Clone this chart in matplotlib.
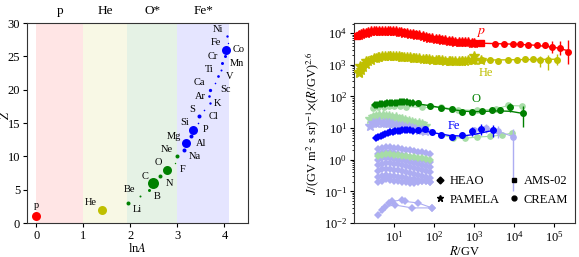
import numpy as np
import matplotlib
matplotlib.use("Agg")
import matplotlib.pyplot as plt
from matplotlib.lines import Line2D

plt.rcParams['font.family'] = ['Liberation Serif', 'DejaVu Serif']
plt.rcParams['mathtext.fontset'] = 'stix'
plt.rcParams['font.size'] = 9

# ---------------- left panel data ----------------
elements = ['p', 'He', 'Li', 'Be', 'B', 'C', 'N', 'O', 'F', 'Ne', 'Na', 'Mg', 'Al', 'Si',
            'P', 'S', 'Cl', 'Ar', 'K', 'Ca', 'Sc', 'Ti', 'V', 'Cr', 'Mn', 'Fe', 'Co', 'Ni']
charge_Z = [1, 2, 3, 4, 5, 6, 7, 8, 9, 10, 11, 12, 13, 14, 15, 16, 17, 18, 19, 20,
            21, 22, 23, 24, 25, 26, 27, 28]
mass_A = [1, 4, 7, 9, 11, 12, 14, 16, 19, 20, 23, 24, 27, 28, 31, 32, 35, 40, 39, 40,
          45, 48, 51, 52, 55, 56, 59, 58]
group = ['p', 'He'] + ['O'] * 8 + ['Fe'] * 18
abundance_dot = [9, 9, 4, 2, 3, 11, 4, 9, 1.4, 4, 4, 9, 4, 9, 1.6, 4, 1.6, 2.4, 2.6, 3.3,
                 1.6, 2.7, 2, 3, 3, 9, 1.4, 2.4]
group_names = ['p', 'He', 'O*', 'Fe*']
group_bounds = [(0, 1), (1, 1.92), (1.92, 3.0), (3.0, 4.09)]

# ---------------- right panel data ----------------
p_pam_R = [1.3, 1.5, 1.7, 2.0, 2.3, 2.7, 3.1, 3.6, 4.2, 5, 6, 7, 8, 9.5, 11, 13, 15, 18, 21,
           25, 30, 36, 43, 52, 62, 75, 90, 110, 130, 160, 190, 230, 280, 340, 410, 500, 600,
           720, 870, 1000]
p_pam = [8.6e3, 9.3e3, 9.9e3, 1.05e4, 1.1e4, 1.14e4, 1.17e4, 1.19e4, 1.2e4, 1.21e4, 1.21e4,
         1.2e4, 1.19e4, 1.17e4, 1.15e4, 1.12e4, 1.09e4, 1.05e4, 1.01e4, 9.7e3, 9.3e3, 8.9e3,
         8.5e3, 8.1e3, 7.7e3, 7.3e3, 7.0e3, 6.7e3, 6.4e3, 6.1e3, 5.9e3, 5.7e3, 5.5e3, 5.4e3,
         5.3e3, 5.2e3, 5.1e3, 5.1e3, 5.0e3, 5.0e3]
p_ams_R = [1.2, 2, 4, 8, 16, 32, 64, 128, 256, 512, 1000, 1500]
p_ams = [8.2e3, 1.04e4, 1.2e4, 1.19e4, 1.08e4, 9.1e3, 7.5e3, 6.4e3, 5.6e3, 5.2e3, 5.0e3, 4.9e3]
p_cre_R = [3.4e3, 5.6e3, 9.5e3, 1.4e4, 2.2e4, 3.8e4, 6e4, 8.9e4, 1.4e5, 2.2e5]
p_cre = [4.7e3, 4.7e3, 4.5e3, 4.5e3, 4.3e3, 4.3e3, 4.1e3, 3.7e3, 3.5e3, 2.6e3]
p_cre_lo = [150, 150, 200, 250, 300, 400, 700, 1300, 1500, 1500]
p_cre_hi = [150, 150, 200, 250, 300, 450, 900, 2000, 2300, 3300]
p_fit_R = [1000, 3000, 1e4, 3e4, 1e5, 2.2e5]
p_fit = [4.9e3, 4.7e3, 4.5e3, 4.2e3, 3.6e3, 2.8e3]

he_pam_R = p_pam_R
he_pam = [550, 700, 850, 1050, 1300, 1450, 1600, 1700, 1780, 1850, 1880, 1900, 1900, 1900,
          1880, 1860, 1830, 1800, 1760, 1720, 1680, 1640, 1600, 1560, 1520, 1480, 1450, 1420,
          1400, 1380, 1370, 1360, 1350, 1350, 1350, 1360, 1370, 1380, 1400, 1420]
he_ams_R = [1.3, 1.4, 2, 4, 8, 16, 32, 64, 128, 256, 512, 1000, 1500]
he_ams = [600, 950, 1300, 1800, 1900, 1830, 1650, 1490, 1390, 1350, 1360, 1900, 1400]
he_cre_R = [1.6e3, 2.5e3, 4e3, 7e3, 1.2e4, 1.9e4, 3e4, 4.5e4, 7e4, 1.2e5]
he_cre = [1.4e3, 1.4e3, 1.35e3, 1.4e3, 1.45e3, 1.5e3, 1.5e3, 1.45e3, 1.4e3, 1.4e3]
he_cre_lo = [60, 60, 70, 80, 100, 120, 150, 600, 700, 400]
he_cre_hi = [60, 60, 70, 80, 100, 120, 150, 400, 600, 800]
he_fit_R = [1000, 1e4, 1e5, 1.2e5]
he_fit = [1.4e3, 1.45e3, 1.5e3, 1.5e3]

o_heao_R = [3.3, 3.8, 4.4, 5.0, 5.8, 6.7, 7.7, 8.9, 10.3, 11.9, 13.7, 15.8, 18.2, 21, 25, 30]
o_heao = [53, 55, 57, 58, 59, 60, 61, 62, 63, 64, 65, 66, 66, 65, 64, 62]
o_cre_R = [40, 80, 150, 280, 500, 900, 1600, 2800, 4500, 8000, 16600]
o_cre = [60, 50, 44, 39, 32, 32, 34, 37, 38, 46, 30]
o_cre_err = [3, 3, 3, 3, 3, 3, 4, 5, 7, 14, 19]
o_fit_R = [20, 40, 80, 150, 300, 600, 1000, 2000, 4000, 8000, 16600]
o_fit = [63, 58, 51, 44, 38, 34, 33, 34, 35, 34, 29]

fe_heao_R = [3.5, 4, 4.6, 5.3, 6.1, 7, 8, 9.2, 10.6, 12.2, 14, 16, 18.5, 21, 25, 30]
fe_heao = [4.8, 5.2, 5.7, 6.2, 6.6, 7.0, 7.3, 7.6, 7.9, 8.1, 8.3, 8.4, 8.5, 8.5, 8.4, 8.3]
fe_cre_R = [40, 60, 90, 150, 280, 500, 900, 1500, 3000]
fe_cre = [8.5, 9.6, 7.8, 6.0, 5.4, 6.2, 8.3, 9.7, 8.7]
fe_cre_err = [0.8, 1.0, 1.0, 0.8, 0.8, 1.2, 2.5, 3.5, 3.5]
fe_fit_R = [3.5, 5, 8, 15, 30, 60, 120, 250, 500, 1000, 2000, 3000]
fe_fit = [4.8, 6.0, 7.3, 8.3, 8.5, 8.0, 6.8, 5.8, 5.6, 6.3, 7.6, 8.5]

# faint (other species)
lg_o_R = [3, 4, 5.5, 7.5, 10, 14, 20, 50, 150, 400, 1200, 3500, 7000, 16000]
lg_o = [42, 45, 48, 50, 51, 50, 48, 45, 46, 38, 36, 40, 52, 50]
band_R = [2.5, 3, 3.6, 4.3, 5.2, 6.3, 7.5, 9, 11, 13, 16, 19, 23, 28, 34, 41, 50, 60]
lg_band = [20, 23, 25, 26, 26, 25, 24, 23, 22, 20, 19, 18, 17, 16, 15, 14, 13, 12]
lav_band = [12, 14, 15, 15.5, 15, 14.5, 14, 13, 12.5, 12, 11.5, 11, 10.5, 10, 9.5, 9, 8.5, 8]
lg_hi_R = [150, 300, 600, 1200, 2500, 5000, 9000]
lg_hi = [6, 5, 4.8, 5.2, 5.5, 6, 7]
lav_hi_R = [1000, 2000, 4000, 9500]
lav_hi = [9, 10, 8, 5.3]
lav_hi_lo = [2, 3, 3, 5.2]
lav_hi_up = [2, 3, 4, 4]

heao_R = [4, 5, 6.3, 8, 10, 12.6, 16, 20, 25, 32, 40, 50, 63, 80]
lav_a = [2.2, 2.4, 2.5, 2.5, 2.4, 2.3, 2.2, 2.1, 2.0, 1.9, 1.8, 1.7, 1.6, 1.5]
lav_b = [1.5, 1.6, 1.7, 1.7, 1.6, 1.5, 1.4, 1.3, 1.2, 1.1, 1.0, 0.95, 0.9, 0.85]
lav_c = [1.0, 1.1, 1.15, 1.1, 1.05, 1.0, 0.95, 0.9, 0.85, 0.8, 0.75, 0.7, 0.65, 0.6]
lav_d = [0.7, 0.75, 0.8, 0.78, 0.75, 0.72, 0.68, 0.64, 0.6, 0.56, 0.52, 0.48, 0.45, 0.42]
lav_e = [0.45, 0.5, 0.52, 0.5, 0.48, 0.46, 0.43, 0.4, 0.38, 0.35, 0.33, 0.31, 0.29, 0.27]
lav_f = [0.28, 0.3, 0.32, 0.31, 0.3, 0.29, 0.28, 0.26, 0.25, 0.24, 0.23, 0.22, 0.21, 0.2]
lav_g = [0.2, 0.22, 0.24, 0.23, 0.22, 0.21, 0.2, 0.2, 0.19, 0.19, 0.2, 0.21, 0.22, 0.2]
lg_h = [1.3, 1.4, 1.5, 1.5, 1.45, 1.4, 1.35, 1.3, 1.25, 1.2, 1.15, 1.1, 1.05, 1.0]
lav_s1_R = [5, 7.5, 9, 16, 19, 40, 89]
lav_s1 = [0.026, 0.043, 0.048, 0.054, 0.048, 0.043, 0.03]
lav_s2_R = [4, 6, 10.6, 28, 89]
lav_s2 = [0.018, 0.033, 0.037, 0.03, 0.03]

# ---------------- figure ----------------
fig = plt.figure(figsize=(5.79, 2.57), dpi=100)
axL = fig.add_axes([27 / 579, 34 / 257, 221 / 579, 200 / 257])
axR = fig.add_axes([354 / 579, 34 / 257, 221 / 579, 200 / 257])

# left
span_colors = ['red', 'y', 'g', 'b']
for (a, b), c, name in zip(group_bounds, span_colors, group_names):
    axL.axvspan(a, b, color=c, alpha=0.1, lw=0)
    axL.text((a + b) / 2, 30.9, name, ha='center', va='bottom', fontsize=9.5)
col_map = {'p': 'red', 'He': '#bfbf00', 'O': 'green', 'Fe': 'blue'}
lnA = np.log(mass_A)
for i, (el, z, x, g, d) in enumerate(zip(elements, charge_Z, lnA, group, abundance_dot)):
    axL.scatter([x], [z], s=(d * 0.72) ** 2, color=col_map[g], zorder=3, lw=0)
    if el == 'p':
        axL.annotate(el, (x, z), xytext=(0, 4.5), textcoords='offset points',
                     ha='center', va='bottom', fontsize=7.5)
    elif z % 2 == 0:
        axL.annotate(el, (x, z), xytext=(-3.2, 5), textcoords='offset points',
                     ha='right', va='center', fontsize=7.5)
    else:
        axL.annotate(el, (x, z), xytext=(3.5, -5), textcoords='offset points',
                     ha='left', va='center', fontsize=7.5)
axL.set_xlim(-0.2, 4.5)
axL.set_ylim(0, 30)
axL.set_xticks([0, 1, 2, 3, 4])
axL.set_yticks([0, 5, 10, 15, 20, 25, 30])
axL.set_xlabel(r'ln$A$', labelpad=0)
axL.set_ylabel(r'$Z$')
axL.yaxis.set_label_coords(-0.07, 0.54)

# right
lavc = '#adadf2'
lgc = '#a6dca6'
ax = axR
fk = dict(marker='D', ms=4.2, lw=0.8, mew=0)
for vals in [lav_a, lav_b, lav_c, lav_d, lav_e, lav_f, lav_g]:
    ax.plot(heao_R, vals, color=lavc, **fk, zorder=1)
ax.plot(heao_R, lg_h, color=lgc, **fk, zorder=1)
ax.plot(lav_s1_R, lav_s1, color=lavc, **fk, zorder=1)
ax.plot(lav_s2_R, lav_s2, color=lavc, **fk, zorder=1)
ax.plot(band_R, lg_band, color=lgc, marker='*', ms=7, lw=0, zorder=1)
ax.plot(band_R, lav_band, color=lavc, marker='*', ms=7, lw=0, zorder=1)
ax.plot(lg_o_R, lg_o, color=lgc, marker='o', ms=3.8, lw=0.8, zorder=1)
ax.plot(lg_hi_R, lg_hi, color=lgc, marker='o', ms=3.8, lw=0.8, zorder=1)
ax.errorbar(lav_hi_R, lav_hi, yerr=[lav_hi_lo, lav_hi_up], color=lavc, marker='o', ms=3.8,
            lw=0.8, elinewidth=1, zorder=1)

# protons
ax.plot(p_pam_R, p_pam, color='red', marker='*', ms=7.5, lw=0, zorder=3)
ax.plot(p_ams_R, p_ams, color='red', marker='s', ms=4, lw=0, zorder=3)
ax.plot(p_fit_R, p_fit, color='red', lw=1, zorder=3)
ax.errorbar(p_cre_R, p_cre, yerr=[p_cre_lo, p_cre_hi], color='red', marker='o', ms=4,
            lw=0, elinewidth=1, zorder=3)
# helium
hec = '#bfbf00'
ax.plot(he_pam_R, he_pam, color=hec, marker='*', ms=7.5, lw=0, zorder=3)
ax.plot(he_ams_R, he_ams, color=hec, marker='*', ms=7.5, lw=0, zorder=3)
ax.plot(he_fit_R, he_fit, color=hec, lw=1, zorder=3)
ax.errorbar(he_cre_R, he_cre, yerr=[he_cre_lo, he_cre_hi], color=hec, marker='o', ms=4,
            lw=0, elinewidth=1, zorder=3)
# oxygen
ax.plot(o_fit_R, o_fit, color='green', lw=1, zorder=3)
ax.plot(o_heao_R, o_heao, color='green', marker='D', ms=4, lw=0.8, mew=0, zorder=3)
ax.errorbar(o_cre_R, o_cre, yerr=o_cre_err, color='green', marker='o', ms=4, lw=0,
            elinewidth=1, zorder=3)
# iron
ax.plot(fe_fit_R, fe_fit, color='blue', lw=1, zorder=3)
ax.plot(fe_heao_R, fe_heao, color='blue', marker='D', ms=4, lw=0.8, mew=0, zorder=3)
ax.errorbar(fe_cre_R, fe_cre, yerr=fe_cre_err, color='blue', marker='o', ms=4, lw=0,
            elinewidth=1, zorder=3)

ax.text(1.5e3, 1.05e4, r'$p$', color='red', fontsize=10, ha='center', va='center')
ax.text(2.0e3, 560, 'He', color=hec, fontsize=9, ha='center', va='center')
ax.text(1.1e3, 85, 'O', color='green', fontsize=9, ha='center', va='center')
ax.text(3.2e2, 11.5, 'Fe', color='blue', fontsize=9, ha='center', va='center')

ax.set_xscale('log')
ax.set_yscale('log')
ax.set_xlim(1.0, 3.3e5)
ax.set_ylim(1e-2, 2.1e4)
ax.set_xticks([1e1, 1e2, 1e3, 1e4, 1e5])
ax.set_yticks([1e-2, 1e-1, 1e0, 1e1, 1e2, 1e3, 1e4])
ax.set_xlabel(r'$R$/GV', labelpad=0)
ax.set_ylabel(r'$J$/(GV m$^2$ s sr)$^{-1}$$\times$($R$/GV)$^{2.6}$', labelpad=1)

handles = [Line2D([], [], color='k', marker='D', ms=3.5, lw=0),
           Line2D([], [], color='k', marker='*', ms=5, lw=0),
           Line2D([], [], color='k', marker='s', ms=3.5, lw=0),
           Line2D([], [], color='k', marker='o', ms=3.5, lw=0)]
ax.legend(handles, ['HEAO', 'PAMELA', 'AMS-02', 'CREAM'], ncol=2, frameon=False,
          loc='lower right', bbox_to_anchor=(1.02, 0.03), handletextpad=0.3,
          columnspacing=0.6, handlelength=1.0, fontsize=9, labelspacing=0.5)

for a in (axL, ax):
    a.tick_params(which='major', length=3, pad=2)
    a.tick_params(which='minor', length=1.8)
    for s in a.spines.values():
        s.set_color('#333333')
        s.set_linewidth(0.8)

fig.savefig('out.png', dpi=100)
